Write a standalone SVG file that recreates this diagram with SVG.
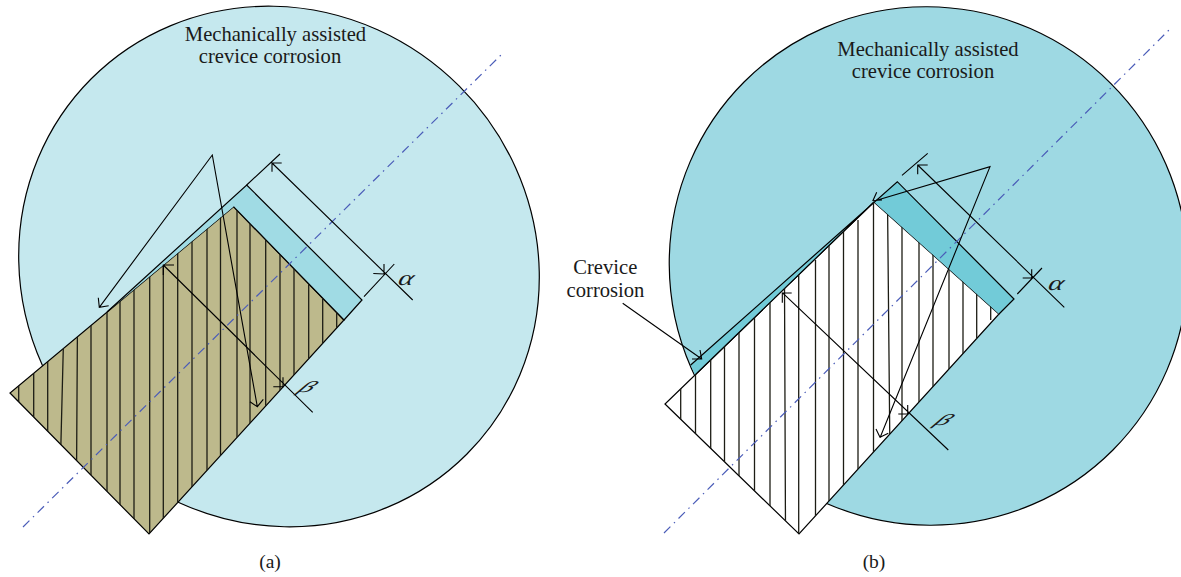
<svg xmlns="http://www.w3.org/2000/svg" width="1181" height="577" viewBox="0 0 1181 577">
<style>
.o{stroke:#000;stroke-width:1.2;fill:none;stroke-linejoin:miter}
.h{stroke:#1c1c14;stroke-width:1.3;fill:none}
.d{stroke:#000;stroke-width:1.1;fill:none}
.ax{stroke:#4a5cb8;stroke-width:1.2;fill:none;stroke-dasharray:9 5 1.5 5}
text{font-family:"Liberation Serif","Times New Roman",serif;fill:#1a1a1a}
.t{font-size:20.6px;text-anchor:middle}
.c{font-size:19.5px;text-anchor:middle}
.g{font-family:"Liberation Serif",serif;font-style:italic;font-size:25px;text-anchor:middle}
</style>
<defs>
<clipPath id="cl"><polygon points="10,393 149,534 344,320 233.5,206.7"/></clipPath>
<clipPath id="cr"><polygon points="665,404 799,534 999,314 874,202"/></clipPath>
</defs>
<rect width="1181" height="577" fill="#fff"/>
<g id="panel-a">
<ellipse id="disc-a" cx="279" cy="266.5" rx="265.5" ry="255" transform="rotate(45 279 266.5)" fill="#c5e8ee" stroke="#000" stroke-width="1.2"/>
<polygon id="block-a" points="10,393 149,534 344,320 233.5,206.7" style="fill:#bdb98c;stroke:#000;stroke-width:1.2"/>
<polygon id="strip-a" points="107,312 246.7,185 362,300 344,320 233.5,206.7" style="fill:#a0dbe4;stroke:none"/>
<path class="o" d="M107,312L246.7,185L362,300L344,320L233.5,206.7"/>
<path class="h" clip-path="url(#cl)" d="M18.7,360V420M33.7,340V440M47.7,320V450M64,320L60.5,460M77.6,300L76.5,480M91,290V500M107,270V520M120,270V530M134,250V540M149.7,240V540M163.3,230V530M177.7,220V520M192,210V510M207,200V490M220.5,200V480M237,200V470M250,200V450M265.7,200V440M280,200V420M294,200V400M308.7,200V390M322.7,200V370M336.7,200V350"/>
<line class="ax" x1="23" y1="527" x2="503" y2="53"/>
<g id="dims-a">
<path class="d" d="M246.7,185L280,154M272,163L412.7,300M281.7,163H272V171.7M373.3,273.5L384,274V264M364,296.7L394.3,264"/>
<path class="d" d="M163.3,265L312.7,412.3M174,265H163.3V275M273.3,386.7H283V377.3"/>
<path class="d" d="M99.3,307.3L212.3,155L257.3,406.7M108.7,305.7L99.3,307.3L98.3,297.7M250,401.7L257.3,406.7L263.3,399.3"/>
</g>
<text class="t" x="275.5" y="41">Mechanically assisted</text>
<text class="t" x="270" y="63">crevice corrosion</text>
<text class="g" transform="translate(406,281) skewX(-15) scale(1.15,.85)" y="5">α</text>
<text class="g" transform="translate(306.7,388) skewX(-40) scale(1.15,.62)" y="6">β</text>
<text class="c" x="270" y="568">(a)</text>
</g>
<g id="panel-b">
<ellipse id="disc-b" cx="928.5" cy="266" rx="260.5" ry="258" transform="rotate(45 928.5 266)" fill="#9ed9e3" stroke="#000" stroke-width="1.2"/>
<polygon id="block-b" points="665,404 799,534 999,314 874,202" style="fill:#fff;stroke:#000;stroke-width:1.2"/>
<polygon id="strip-b" points="690.7,365 897.3,181.7 1014,299 999,314 874,202 695,375" style="fill:#72cbd8;stroke:none"/>
<path class="o" d="M690.7,365L897.3,181.7L1014,299L999,314M874,202L695,375"/>
<path class="h" clip-path="url(#cr)" d="M680.7,380V450M695.5,370V450M710.7,350V470M724.5,340V480M739,330V500M754.5,310V510M770,300V530M784.5,285L785.5,530M798.7,270V534M815.5,260V530M829,240V520M843.5,230V500M858,220V480M873.5,200V470M887.5,200L890,460M902,200V440M919,200V420M933,200V400M949,200V380M963,200V360M976.7,200V340M990.7,200V320"/>
<line class="ax" x1="664" y1="533" x2="1170.7" y2="28.3"/>
<g id="dims-b">
<path class="d" d="M902,175.3L927.7,153.3M917.7,165L1064.3,307.3M927.7,165H917.7V174.3M1022.7,278H1031.7V269.3M1017.3,294L1042,268"/>
<path class="d" d="M782.3,292.7L948.3,450M791.7,293H782.3V302.7M898.3,414H907.7V405"/>
<path class="d" d="M875,200.7L990,166.7L880,437.7M876.7,192.3L873,200.5L882,200M876,429L880,437.3L888.3,433.3"/>
<path class="d" d="M622.7,303.3L701.7,359M692,359H701.7L700,350"/>
</g>
<text class="t" x="928" y="56">Mechanically assisted</text>
<text class="t" x="923" y="78">crevice corrosion</text>
<text class="t" x="605.3" y="273.5">Crevice</text>
<text class="t" x="605.5" y="297">corrosion</text>
<text class="g" transform="translate(1056,286) skewX(-15) scale(1.15,.85)" y="5">α</text>
<text class="g" transform="translate(943,421) skewX(-40) scale(1.15,.62)" y="6">β</text>
<text class="c" x="874" y="568">(b)</text>
</g>
</svg>
